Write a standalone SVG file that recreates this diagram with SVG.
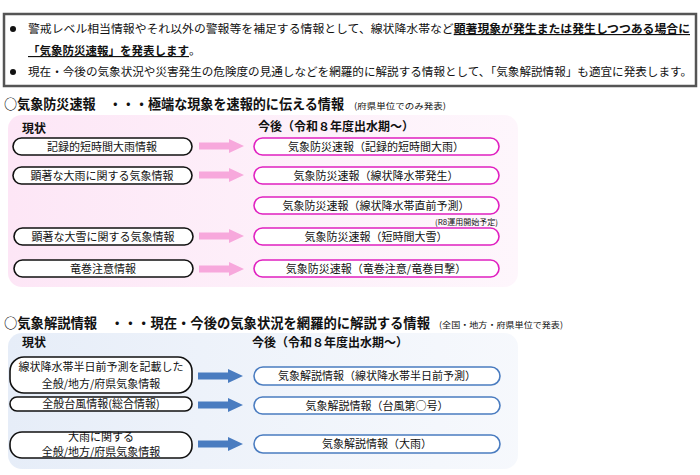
<svg xmlns="http://www.w3.org/2000/svg" width="700" height="475" viewBox="0 0 700 475">
<defs>
<style>
text{font-family:"Noto Sans CJK JP","Noto Sans",sans-serif;fill:#111}
.t{font-size:11.5px}
.b{font-weight:bold}
.n{font-size:11px;text-anchor:middle}
.L{fill:#fff;stroke:#111;stroke-width:1.6}
.P{fill:#fff;stroke:#e020c0;stroke-width:1.6}
.B{fill:#fff;stroke:#4a7cc0;stroke-width:1.6}
</style>
<linearGradient id="pg" x1="0" y1="0" x2="1" y2="0"><stop offset="0" stop-color="#fde6f6"/><stop offset="1" stop-color="#fdf0fa" stop-opacity="0.6"/></linearGradient>
<linearGradient id="bg" x1="0" y1="0" x2="1" y2="0"><stop offset="0" stop-color="#e6edf8"/><stop offset="1" stop-color="#f0f4fb" stop-opacity="0.6"/></linearGradient>
<polygon id="arr" points="0,-3.5 30,-3.5 30,-7 45,0 30,7 30,3.5 0,3.5"/>
</defs>
<rect width="700" height="475" fill="#fff"/>
<rect x="4" y="14" width="692" height="72" fill="#fff" stroke="#555" stroke-width="2.5"/>
<circle cx="13" cy="29" r="3" fill="#111"/>
<text x="28" y="33" class="t" textLength="662" lengthAdjust="spacingAndGlyphs">警戒レベル相当情報やそれ以外の警報等を補足する情報として、線状降水帯など<tspan class="b" text-decoration="underline">顕著現象が発生または発生しつつある場合に</tspan></text>
<text x="28" y="55" class="t"><tspan class="b" text-decoration="underline">「気象防災速報」を発表します</tspan>。</text>
<circle cx="13" cy="72" r="3" fill="#111"/>
<text x="28" y="76" class="t" textLength="664" lengthAdjust="spacingAndGlyphs">現在・今後の気象状況や災害発生の危険度の見通しなどを網羅的に解説する情報として、「気象解説情報」も適宜に発表します。</text>

<text x="4" y="109" font-size="14" class="b" textLength="340" lengthAdjust="spacingAndGlyphs">○気象防災速報　・・・極端な現象を速報的に伝える情報</text>
<text x="354" y="109" font-size="8.5" textLength="92" lengthAdjust="spacingAndGlyphs">(府県単位でのみ発表)</text>
<rect x="8" y="115" width="510" height="172" rx="14" fill="url(#pg)"/>
<text x="22" y="133" font-size="12" class="b">現状</text>
<text x="258" y="131" font-size="12" class="b">今後（令和８年度出水期～）</text>

<text x="4" y="328" font-size="14" class="b" textLength="426" lengthAdjust="spacingAndGlyphs">○気象解説情報　・・・現在・今後の気象状況を網羅的に解説する情報</text>
<text x="439" y="328" font-size="8.5" textLength="124" lengthAdjust="spacingAndGlyphs">(全国・地方・府県単位で発表)</text>
<rect x="8" y="333" width="510" height="136" rx="14" fill="url(#bg)"/>
<text x="22" y="347" font-size="12" class="b">現状</text>
<text x="252" y="347" font-size="12" class="b">今後（令和８年度出水期～）</text>

<g id="connectors">
<use href="#arr" x="199" y="146" fill="#f7a8dc"/>
<use href="#arr" x="199" y="175" fill="#f7a8dc"/>
<use href="#arr" x="199" y="236" fill="#f7a8dc"/>
<use href="#arr" x="199" y="269" fill="#f7a8dc"/>
<use href="#arr" x="198" y="376" fill="#4a7cc0"/>
<use href="#arr" x="198" y="405" fill="#4a7cc0"/>
<use href="#arr" x="198" y="444" fill="#4a7cc0"/>
</g>

<g id="l1"><rect class="L" x="13" y="138" width="179" height="17" rx="8.5"/><text class="n" x="102" y="150.5">記録的短時間大雨情報</text></g>
<g id="l2"><rect class="L" x="13" y="167" width="179" height="17" rx="8.5"/><text class="n" x="102" y="179.5">顕著な大雨に関する気象情報</text></g>
<g id="l3"><rect class="L" x="14" y="228" width="179" height="17" rx="8.5"/><text class="n" x="103" y="240.5">顕著な大雪に関する気象情報</text></g>
<g id="l4"><rect class="L" x="14" y="260" width="179" height="17" rx="8.5"/><text class="n" x="103" y="272.5">竜巻注意情報</text></g>

<g id="r1"><rect class="P" x="254" y="138" width="245" height="17" rx="8.5"/><text class="n" x="376" y="150.5">気象防災速報（記録的短時間大雨）</text></g>
<g id="r2"><rect class="P" x="254" y="167" width="245" height="17" rx="8.5"/><text class="n" x="376" y="179.5">気象防災速報（線状降水帯発生）</text></g>
<g id="r3"><rect class="P" x="254" y="197" width="245" height="17" rx="8.5"/><text class="n" x="376" y="209.5">気象防災速報（線状降水帯直前予測）</text><text x="498" y="225" font-size="8" text-anchor="end">(R8運用開始予定)</text></g>
<g id="r4"><rect class="P" x="254" y="228" width="245" height="17" rx="8.5"/><text class="n" x="376" y="240.5">気象防災速報（短時間大雪）</text></g>
<g id="r5"><rect class="P" x="254" y="260" width="245" height="17" rx="8.5"/><text class="n" x="376" y="272.5">気象防災速報（竜巻注意/竜巻目撃）</text></g>

<g id="m1"><rect class="L" x="10" y="357" width="182" height="36" rx="14"/><text class="n" x="101" y="371">線状降水帯半日前予測を記載した</text><text class="n" x="101" y="388">全般/地方/府県気象情報</text></g>
<g id="m2"><rect class="L" x="10" y="397" width="182" height="14" rx="7"/><text class="n" x="101" y="408">全般台風情報(総合情報)</text></g>
<g id="m3"><rect class="L" x="10" y="432" width="182" height="26" rx="12"/><text class="n" x="101" y="441">大雨に関する</text><text class="n" x="101" y="456">全般/地方/府県気象情報</text></g>

<g id="s1"><rect class="B" x="254" y="367" width="246" height="18" rx="9"/><text class="n" x="377" y="380">気象解説情報（線状降水帯半日前予測）</text></g>
<g id="s2"><rect class="B" x="254" y="397" width="246" height="17" rx="8.5"/><text class="n" x="377" y="409.5">気象解説情報（台風第○号）</text></g>
<g id="s3"><rect class="B" x="254" y="435" width="246" height="18" rx="9"/><text class="n" x="377" y="448">気象解説情報（大雨）</text></g>
</svg>
